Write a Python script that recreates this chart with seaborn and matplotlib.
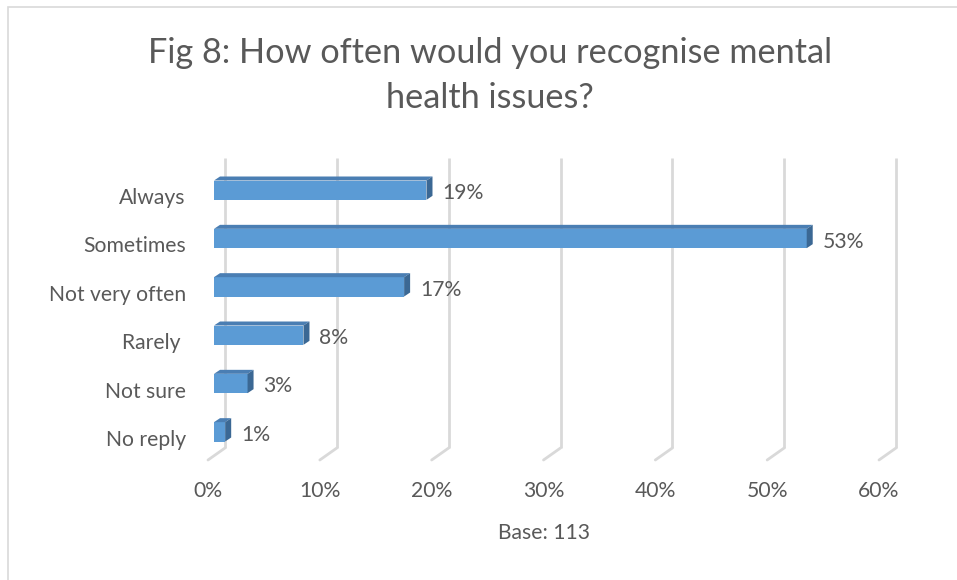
import matplotlib
matplotlib.use("Agg")
import matplotlib.pyplot as plt
import matplotlib.transforms as mtransforms
from matplotlib.patches import Polygon, Rectangle
from matplotlib.ticker import FuncFormatter
import seaborn as sns
import pandas as pd

categories = ["Always", "Sometimes", "Not very often", "Rarely ", "Not sure", "No reply"]
percent = [19, 53, 17, 8, 3, 1]
x_ticks = [0, 10, 20, 30, 40, 50, 60]
title_lines = ["Fig 8: How often would you recognise mental", "health issues?"]
x_label = "Base: 113"

sns.set_theme(style="white")
plt.rcParams["font.family"] = ["Lato", "DejaVu Sans"]

TEXT = "#595959"
GRID = "#D9D9D9"
FRONT = "#5B9BD5"
TOP = "#4A7EB3"
SIDE = "#3B6894"
FS = 15.2

W, H = 957, 580
fig = plt.figure(figsize=(W / 100, H / 100), dpi=100)

# chart frame
fig.patches.append(Rectangle((8 / W, -0.05), 1.1, 1 - 7 / H + 0.05,
                             transform=fig.transFigure, fill=False,
                             edgecolor=GRID, linewidth=1.2))

# front plane of the 3D plot area
ax = fig.add_axes([208 / W, (H - 460) / H, 671 / W, 290 / H])

df = pd.DataFrame({"category": categories, "percent": percent})
sns.barplot(data=df, x="percent", y="category", orient="h", ax=ax,
            color=FRONT, width=0.4, saturation=1, linewidth=0)

ax.set_xlim(0, 60)
ax.set_ylim(len(categories) - 0.5, -0.5)
for s in ax.spines.values():
    s.set_visible(False)

# depth offsets in pixels
bar_dx, bar_dy = 6, 4
wall_dx, wall_dy = 17, 12

def shifted(dx, dy):
    return mtransforms.offset_copy(ax.transData, fig=fig, x=dx, y=dy, units="dots")

# back wall gridlines with floor diagonals
wall_t = shifted(wall_dx, wall_dy)
y0, y1 = len(categories) - 0.5, -0.5
for xt in x_ticks:
    ax.plot([xt, xt], [y0, y1], color=GRID, lw=2, transform=wall_t, zorder=0,
            solid_capstyle="butt", clip_on=False)
    p0 = ax.transData.transform((xt, y0))
    p1 = p0 + (wall_dx, wall_dy)
    ax.plot([p0[0], p1[0]], [p0[1], p1[1]], color=GRID, lw=2,
            transform=None, zorder=0, clip_on=False)

# 3D bars: front face shifted into the floor, plus top and side faces
front_t = shifted(bar_dx, bar_dy)
for patch, val in zip(ax.patches, percent):
    patch.set_transform(front_t)
    patch.set_zorder(3)
    patch.set_clip_on(False)
    x0 = patch.get_x()
    w = patch.get_width()
    yb = patch.get_y()
    h = patch.get_height()
    tl = front_t.transform((x0, yb))
    tr = front_t.transform((x0 + w, yb))
    br = front_t.transform((x0 + w, yb + h))
    d = (bar_dx, bar_dy)
    top = Polygon([tl, tr, tr + d, tl + d], closed=True, transform=None,
                  facecolor=TOP, edgecolor="none", zorder=3)
    side = Polygon([tr, br, br + d, tr + d], closed=True, transform=None,
                   facecolor=SIDE, edgecolor="none", zorder=3)
    fig.add_artist(top)
    fig.add_artist(side)
    ax.annotate(f"{val}%", xy=(x0 + w, yb + h / 2), xycoords=front_t,
                xytext=(16, -3), textcoords="offset pixels",
                ha="left", va="center", fontsize=FS, color=TEXT)

ax.set_xticks(x_ticks)
ax.xaxis.set_major_formatter(FuncFormatter(lambda v, _: f"{int(v)}%"))
ax.tick_params(axis="x", length=0, pad=15, labelsize=FS, labelcolor=TEXT)
ax.tick_params(axis="y", length=0, pad=16, labelsize=FS, labelcolor=TEXT)
nudge = mtransforms.ScaledTranslation(0, -2 / 100, fig.dpi_scale_trans)
for lbl in ax.get_yticklabels():
    lbl.set_transform(lbl.get_transform() + nudge)
ax.set_ylabel("")
ax.set_xlabel(x_label, fontsize=FS, color=TEXT, labelpad=16)
ax.grid(False)

fig.text(490 / W, 1 - 53 / H, title_lines[0], ha="center", va="center",
         fontsize=24.7, color=TEXT)
fig.text(490 / W, 1 - 98 / H, title_lines[1], ha="center", va="center",
         fontsize=24.7, color=TEXT)

fig.savefig("out.png", dpi=100)
